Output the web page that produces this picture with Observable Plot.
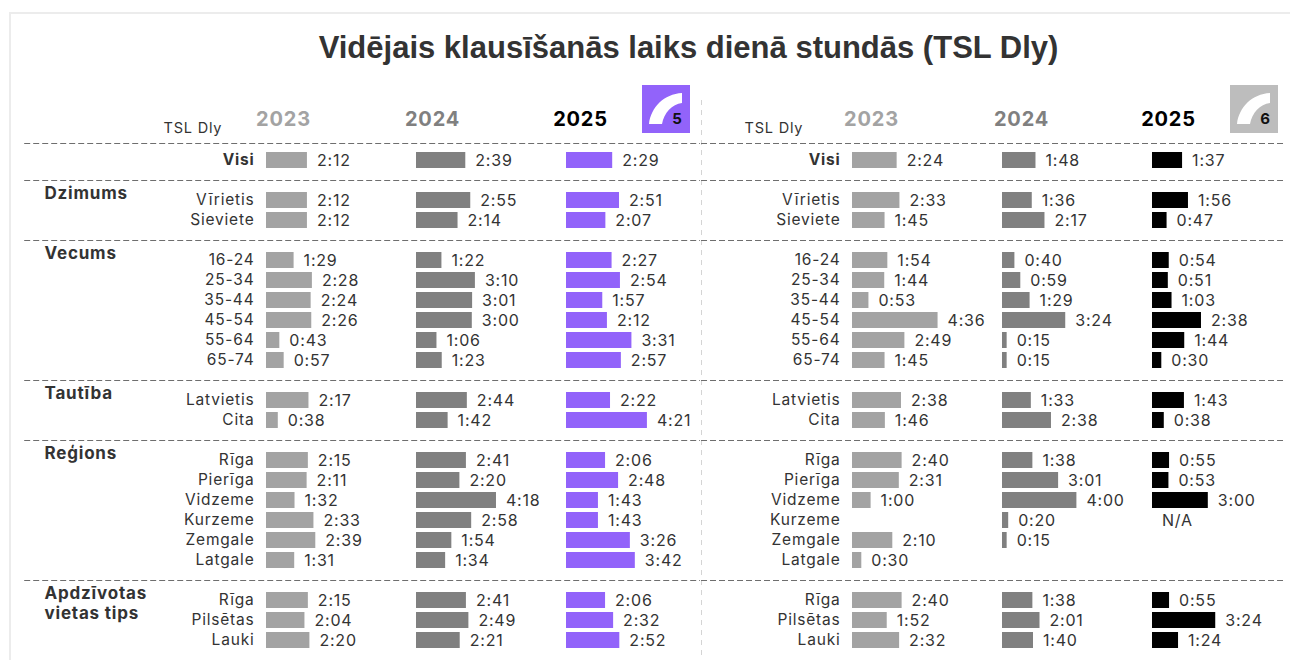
<!DOCTYPE html>
<html><head><meta charset="utf-8">
<script src="https://cdn.jsdelivr.net/npm/d3@7"></script>
<script src="https://cdn.jsdelivr.net/npm/@observablehq/plot@0.6"></script>
<style>
html,body{margin:0;padding:0;background:#fff;width:1290px;height:660px;overflow:hidden;font-family:"Liberation Sans",sans-serif}
#card{position:absolute;left:9px;top:12px;width:1300px;height:700px;border-left:2px solid #ececec;border-top:2px solid #ececec}
h1{position:absolute;left:0;width:1377px;top:30px;margin:0;text-align:center;font:bold 31px "Liberation Sans",sans-serif;color:#333}
.p{position:absolute;top:0;overflow:visible}
.p svg{overflow:visible}
.logo{position:absolute;top:85px;width:48px;height:48px}
</style></head><body>
<div id="card"></div>
<h1>Vidējais klausīšanās laiks dienā stundās (TSL Dly)</h1>
<div id="left" class="p" style="left:0"></div>
<div id="right" class="p" style="left:700px"></div>
<script>
const years = ["2023","2024","2025"];
const rowsVisi = ["Visi"];
const rowsDzimums = ["Vīrietis","Sieviete"];
const rowsVecums = ["16-24","25-34","35-44","45-54","55-64","65-74"];
const rowsTautiba = ["Latvietis","Cita"];
const rowsRegions = ["Rīga","Pierīga","Vidzeme","Kurzeme","Zemgale","Latgale"];
const rowsApdz = ["Rīga ","Pilsētas","Lauki"];
const rows = [...rowsVisi,...rowsDzimums,...rowsVecums,...rowsTautiba,...rowsRegions,...rowsApdz];

const left2023 = ["2:12","2:12","2:12","1:29","2:28","2:24","2:26","0:43","0:57","2:17","0:38","2:15","2:11","1:32","2:33","2:39","1:31","2:15","2:04","2:20"];
const left2024 = ["2:39","2:55","2:14","1:22","3:10","3:01","3:00","1:06","1:23","2:44","1:42","2:41","2:20","4:18","2:58","1:54","1:34","2:41","2:49","2:21"];
const left2025 = ["2:29","2:51","2:07","2:27","2:54","1:57","2:12","3:31","2:57","2:22","4:21","2:06","2:48","1:43","1:43","3:26","3:42","2:06","2:32","2:52"];
const right2023 = ["2:24","2:33","1:45","1:54","1:44","0:53","4:36","2:49","1:45","2:38","1:46","2:40","2:31","1:00","","2:10","0:30","2:40","1:52","2:32"];
const right2024 = ["1:48","1:36","2:17","0:40","0:59","1:29","3:24","0:15","0:15","1:33","2:38","1:38","3:01","4:00","0:20","0:15","","1:38","2:01","1:40"];
const right2025 = ["1:37","1:56","0:47","0:54","0:51","1:03","2:38","1:44","0:30","1:43","0:38","0:55","0:53","3:00","N/A","","","0:55","3:24","1:24"];

const groupLabels = [["Dzimums","Vīrietis"],["Vecums","16-24"],["Tautība","Latvietis"],["Reģions","Rīga"],["Apdzīvotas","Rīga "],["vietas tips","Pilsētas"]];
const yDomain = ["head","s0",...rowsVisi,"s1",...rowsDzimums,"s2",...rowsVecums,"s3",...rowsTautiba,"s4",...rowsRegions,"s5",...rowsApdz];
const dividers = ["s1","s2","s3","s4","s5"];

const minutes = s => { const m = /^(\d+):(\d+)$/.exec(s); return m ? +m[1]*60 + +m[2] : 0; };
const table = series => series.flatMap((vals,k) => vals.map((label,i) => ({year:years[k],row:rows[i],label,min:minutes(label)})));
const ink = "#333";

function panel({series,colors,width,fxRange,ruleSpan,yearDx,tslDx,groups,divider}){
  const data = table(series).filter(d => d.label !== "");
  const ruleStyle = {x1:()=>ruleSpan[0],x2:()=>ruleSpan[1],fx:()=>"2023",stroke:"#6e6e6e",strokeDasharray:"6 3",strokeWidth:1};
  return Plot.plot({
    width,height:660,marginLeft:0,marginRight:0,marginTop:100,marginBottom:0,
    style:{fontFamily:'Inter,sans-serif',letterSpacing:"0.8px",background:"transparent",overflow:"visible"},
    fx:{domain:years,range:fxRange,padding:0,axis:null},
    x:{domain:[0,500],range:[0,155],axis:null},
    y:{type:"band",domain:yDomain,range:[110,650],paddingInner:.2,paddingOuter:.1,axis:null},
    color:{domain:years,range:colors},
    marks:[
      divider ? Plot.ruleX([ruleSpan[0]],{fx:()=>"2023",stroke:"#d4d4d4",strokeDasharray:"5 5"}) : null,
      Plot.ruleY(dividers,{y:d=>d,...ruleStyle}),
      Plot.ruleY(["s0"],{y:d=>d,...ruleStyle,dy:3}),
      Plot.barX(data.filter(d=>d.min>0),{x:"min",y:"row",fx:"year",fill:"year"}),
      Plot.text(data,{x:"min",y:"row",fx:"year",text:"label",textAnchor:"start",dx:9.5,fontSize:16,fill:ink}),
      Plot.text(rows.slice(1),{x:()=>0,y:d=>d,fx:()=>"2023",text:d=>d.trim(),textAnchor:"end",dx:-12,dy:-0.5,fontSize:15.5,fill:ink}),
      Plot.text(rowsVisi,{x:()=>0,y:d=>d,fx:()=>"2023",text:d=>d,textAnchor:"end",dx:-12,dy:-0.5,fontSize:15.5,fontWeight:"bold",fill:ink}),
      ...years.map((y,i)=>Plot.text([y],{x:()=>0,y:()=>"head",fx:d=>d,text:d=>d,dx:yearDx[i],dy:-1,fontSize:20,fontWeight:"bold",fill:i===2?"#000":colors[i]})),
      Plot.text(["TSL Dly"],{x:()=>0,y:()=>"head",fx:()=>"2023",text:d=>d,textAnchor:"start",dx:tslDx,dy:8,fontSize:14.5,fill:ink}),
      Plot.text(groups,{x:()=>0,y:d=>d[1],fx:()=>"2023",text:d=>d[0],textAnchor:"start",dx:-222,dy:-7,fontSize:17,fontWeight:"bold",fill:ink})
    ]
  });
}
document.getElementById("left").append(panel({series:[left2023,left2024,left2025],colors:["#a3a3a3","#808080","#9263fa"],width:700,fxRange:[266,716],ruleSpan:[-780,1400],yearDx:[17,16,14],tslDx:-103,groups:groupLabels,divider:false}));
document.getElementById("right").append(panel({series:[right2023,right2024,right2025],colors:["#a3a3a3","#808080","#000000"],width:590,fxRange:[151,603],ruleSpan:[-487,1400],yearDx:[19,19,16],tslDx:-108,groups:[],divider:true}));

const logo = (x,bg,n) => {
  const s = document.createElementNS("http://www.w3.org/2000/svg","svg");
  s.setAttribute("class","logo"); s.style.left = x+"px"; s.setAttribute("viewBox","0 0 48 48");
  s.innerHTML = `<rect width="48" height="48" fill="${bg}"/><path d="M7 39 C9 22 22 9 40 8 L40 18 C30 19 22 28 20 39 Z" fill="#fff"/><text x="35" y="39" text-anchor="middle" font-family="Inter" font-weight="bold" font-size="15" fill="#111">${n}</text>`;
  document.body.append(s);
};
logo(642,"#9263fa","5");
logo(1230,"#bdbdbd","6");
</script>
</body></html>
